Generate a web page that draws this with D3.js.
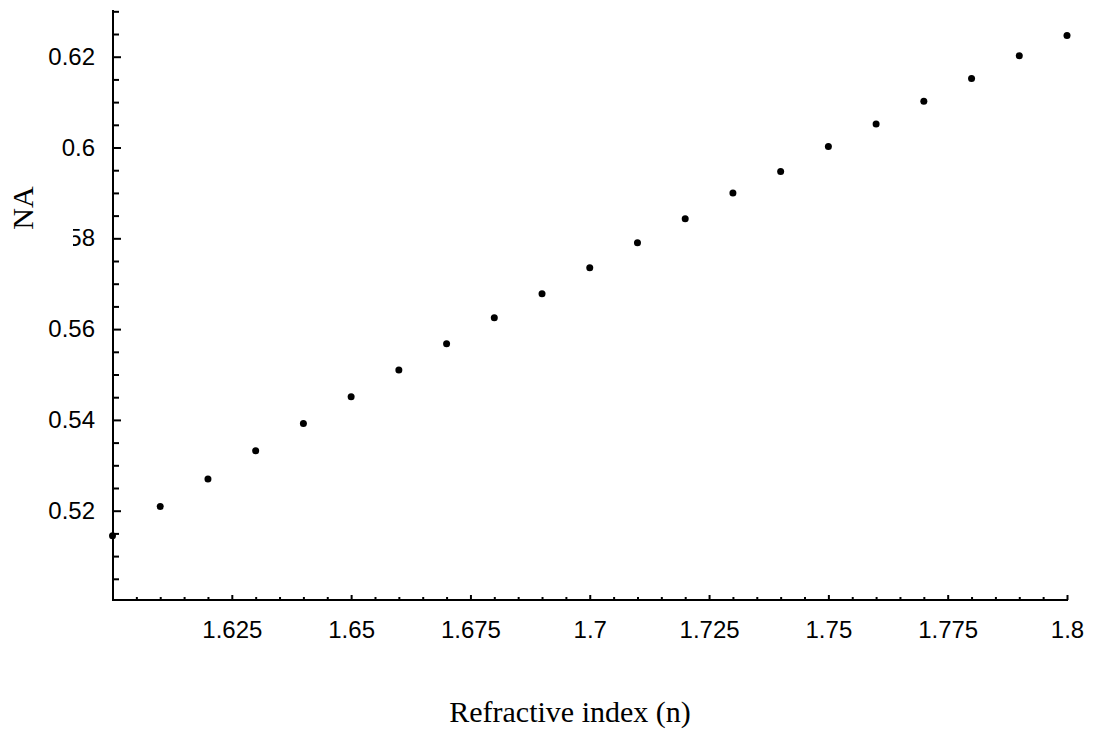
<!DOCTYPE html>
<html>
<head>
<meta charset="utf-8">
<script src="https://cdn.jsdelivr.net/npm/d3@7"></script>
<style>
  body { margin: 0; background: #fff; }
  svg { display: block; }
  .tick text { font-family: "Liberation Sans", Arial, sans-serif; font-size: 24px; fill: #000; }
  .title { font-family: "Liberation Serif", "Times New Roman", serif; font-size: 30px; fill: #000; }
</style>
</head>
<body>
<svg id="chart"></svg>
<script>
// refractive index of the core
var indices = [1.60, 1.61, 1.62, 1.63, 1.64, 1.65, 1.66, 1.67, 1.68, 1.69, 1.70,
               1.71, 1.72, 1.73, 1.74, 1.75, 1.76, 1.77, 1.78, 1.79, 1.80];

// numerical aperture
var naValues = [0.5145, 0.5209, 0.5270, 0.5332, 0.5392, 0.5451, 0.5510, 0.5568,
                0.5625, 0.5678, 0.5735, 0.5790, 0.5843, 0.5900, 0.5947, 0.6002,
                0.6052, 0.6102, 0.6152, 0.6202, 0.6247];

// labelled ticks
var xTicks = [1.625, 1.65, 1.675, 1.7, 1.725, 1.75, 1.775, 1.8];
var yTicks = [0.52, 0.54, 0.56, 0.58, 0.6, 0.62];

var screen = {width: 1094, height: 744};

var svg = d3.select("#chart")
    .attr("width", screen.width)
    .attr("height", screen.height);

var xScale = d3.scaleLinear()
    .domain([1.6, 1.8])
    .range([112.5, 1067]);

var yScale = d3.scaleLinear()
    .domain([0.50033, 0.63029])
    .range([600, 10]);

// every 0.005 on both axes
var xMinor = d3.range(1.6, 1.8001, 0.005);
var yMinor = d3.range(0.505, 0.6303, 0.005);

var isMajor = function(v, step)
{
    return Math.abs(v / step - Math.round(v / step)) < 1e-6;
}

// tick marks, drawn inward
var axes = svg.append("g");

axes.append("g")
    .attr("transform", "translate(0,600)")
    .call(d3.axisBottom(xScale).tickValues(xMinor.filter(function(v){ return !isMajor(v, 0.025); }))
        .tickSize(-3).tickSizeOuter(0).tickFormat(""))
    .call(function(g){ g.select(".domain").remove(); });

axes.append("g")
    .attr("transform", "translate(0,600)")
    .call(d3.axisBottom(xScale).tickValues(xMinor.filter(function(v){ return isMajor(v, 0.025); }))
        .tickSize(-5).tickSizeOuter(0).tickFormat(""))
    .call(function(g){ g.select(".domain").remove(); });

axes.append("g")
    .attr("transform", "translate(113,0)")
    .call(d3.axisLeft(yScale).tickValues(yMinor.filter(function(v){ return !isMajor(v, 0.02); }))
        .tickSize(-6).tickSizeOuter(0).tickFormat(""))
    .call(function(g){ g.select(".domain").remove(); });

axes.append("g")
    .attr("transform", "translate(113,0)")
    .call(d3.axisLeft(yScale).tickValues(yTicks)
        .tickSize(-8).tickSizeOuter(0).tickFormat(""))
    .call(function(g){ g.select(".domain").remove(); });

axes.selectAll(".tick line")
    .attr("stroke", "#000")
    .attr("stroke-width", 2);

// tick labels
axes.append("g")
    .attr("transform", "translate(0,600)")
    .call(d3.axisBottom(xScale).tickValues(xTicks).tickSize(0).tickPadding(21)
        .tickFormat(function(d){ return String(+d.toFixed(3)); }))
    .call(function(g){ g.select(".domain").remove(); });

axes.append("g")
    .attr("transform", "translate(113,0)")
    .call(d3.axisLeft(yScale).tickValues(yTicks).tickSize(0).tickPadding(18)
        .tickFormat(function(d){ return String(+d.toFixed(2)); }))
    .call(function(g){ g.select(".domain").remove(); });

// frame lines
axes.append("line")
    .attr("x1", 113).attr("x2", 113)
    .attr("y1", yScale.range()[1]).attr("y2", 601)
    .attr("stroke", "#000").attr("stroke-width", 2);

axes.append("line")
    .attr("x1", 112).attr("x2", xScale(1.8) + 1)
    .attr("y1", 600).attr("y2", 600)
    .attr("stroke", "#000").attr("stroke-width", 2);

// data points
svg.append("g")
    .selectAll("circle")
    .data(indices)
    .enter()
    .append("circle")
    .attr("cx", function(d){ return xScale(d); })
    .attr("cy", function(d, i){ return yScale(naValues[i]); })
    .attr("r", 3.5)
    .attr("fill", "#000");

// axis titles (the NA box hides part of the 0.58 label, as in the original)
svg.append("rect")
    .attr("x", 0).attr("y", 175)
    .attr("width", 73).attr("height", 80)
    .attr("fill", "#fff");

svg.append("text")
    .attr("class", "title")
    .attr("transform", "translate(33,208) rotate(-90)")
    .attr("text-anchor", "middle")
    .text("NA");

svg.append("text")
    .attr("class", "title")
    .attr("x", 570)
    .attr("y", 722)
    .attr("text-anchor", "middle")
    .text("Refractive index (n)");
</script>
</body>
</html>
